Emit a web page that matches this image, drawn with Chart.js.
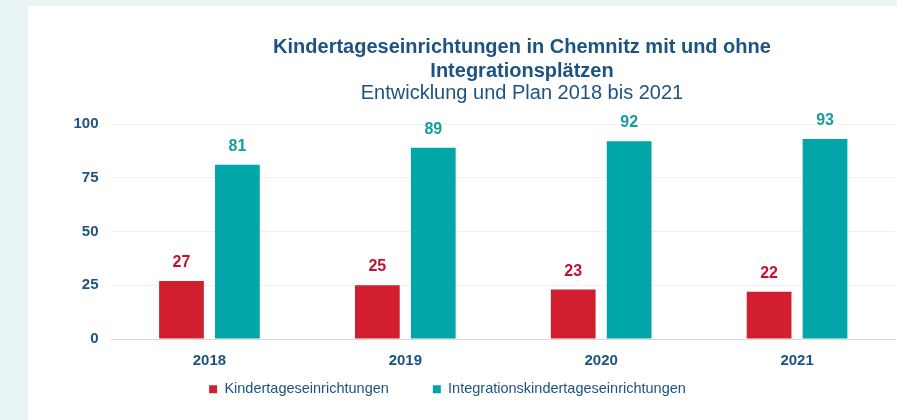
<!DOCTYPE html>
<html>
<head>
<meta charset="utf-8">
<script src="https://cdn.jsdelivr.net/npm/chart.js@4.4.1/dist/chart.umd.min.js"></script>
<style>
  html, body { margin: 0; padding: 0; background: #e9f5f5; }
  #wrap { position: absolute; left: 0; top: 0; width: 897px; height: 420px; }
</style>
</head>
<body>
<div id="wrap"><canvas id="myChart"></canvas></div>
<script>
var years = ['2018', '2019', '2020', '2021'];
var kita = [27, 25, 23, 22];
var integration = [81, 89, 92, 93];
var yTicks = [0, 25, 50, 75, 100];

var titleLines = ['Kindertageseinrichtungen in Chemnitz mit und ohne', 'Integrationsplätzen'];
var subtitleText = 'Entwicklung und Plan 2018 bis 2021';

var FONT = '"Liberation Sans", Arial, sans-serif';
var BLUE = '#1c5383';

// white panel on the light teal page
var panelPlugin = {
    id: 'panel',
    beforeDraw: function (chart) {
        var c = chart.ctx;
        c.save();
        c.fillStyle = '#e9f5f5';
        c.fillRect(0, 0, chart.width, chart.height);
        c.fillStyle = '#ffffff';
        c.fillRect(28, 6, chart.width - 28, chart.height - 6);
        c.restore();
    }
};

// title block, centred a bit right of the canvas like the original
var titlePlugin = {
    id: 'titleBlock',
    afterDraw: function (chart) {
        var c = chart.ctx;
        var cx = 522;
        c.save();
        c.textAlign = 'center';
        c.textBaseline = 'alphabetic';
        c.fillStyle = BLUE;
        c.font = 'bold 20px ' + FONT;
        c.fillText(titleLines[0], cx, 53);
        c.fillText(titleLines[1], cx, 77);
        c.font = '20px ' + FONT;
        c.fillText(subtitleText, cx, 99);
        c.restore();
    }
};

// value labels above the bars
var valueLabels = {
    id: 'valueLabels',
    afterDatasetsDraw: function (chart) {
        var c = chart.ctx;
        c.save();
        c.textAlign = 'center';
        c.textBaseline = 'alphabetic';
        c.font = 'bold 16px ' + FONT;
        chart.data.datasets.forEach(function (ds, i) {
            var meta = chart.getDatasetMeta(i);
            c.fillStyle = ds.labelColor;
            meta.data.forEach(function (bar, j) {
                c.fillText(ds.data[j], bar.x, bar.y - 14);
            });
        });
        c.restore();
    }
};

// the wide item spacing (padding 44) also pads above the items; pull the legend up
var legendNudge = {
    id: 'legendNudge',
    afterLayout: function (chart) {
        if (chart.legend) {
            chart.legend.top -= 32;
        }
    }
};

var ctx = document.getElementById('myChart').getContext('2d');
var myChart = new Chart(ctx, {
    type: 'bar',
    data: {
        labels: years,
        datasets: [{
            label: 'Kindertageseinrichtungen',
            data: kita,
            backgroundColor: '#d11f30',
            labelColor: '#c8102e'
        },
        {
            label: 'Integrationskindertageseinrichtungen',
            data: integration,
            backgroundColor: '#00a6a8',
            labelColor: '#169c9e'
        }]
    },
    options: {
        responsive: true,
        maintainAspectRatio: false,
        animation: false,
        categoryPercentage: 0.571,
        barPercentage: 0.8,
        layout: {
            padding: { top: 124, right: 2, left: 0, bottom: 14 }
        },
        plugins: {
            title: { display: false },
            tooltip: { enabled: false },
            legend: {
                position: 'bottom',
                maxHeight: 36,
                labels: {
                    boxWidth: 8,
                    boxHeight: 8,
                    padding: 44,
                    color: BLUE,
                    font: { family: FONT, size: 14.5 }
                }
            }
        },
        scales: {
            y: {
                min: 0,
                max: 100,
                afterFit: function (scale) { scale.width = 111.5; },
                afterBuildTicks: function (scale) {
                    scale.ticks = yTicks.map(function (v) { return { value: v }; });
                },
                grid: { color: '#f1f1f1', drawTicks: false },
                border: { display: false },
                ticks: {
                    padding: 13,
                    color: BLUE,
                    font: { family: FONT, size: 15, weight: 'bold' }
                }
            },
            x: {
                afterFit: function (scale) { scale.height = 31; },
                grid: { display: false, drawTicks: false },
                border: { color: '#d9d9d9' },
                ticks: {
                    padding: 13,
                    color: BLUE,
                    font: { family: FONT, size: 15, weight: 'bold' }
                }
            }
        }
    },
    plugins: [panelPlugin, titlePlugin, valueLabels, legendNudge]
});
</script>
</body>
</html>
